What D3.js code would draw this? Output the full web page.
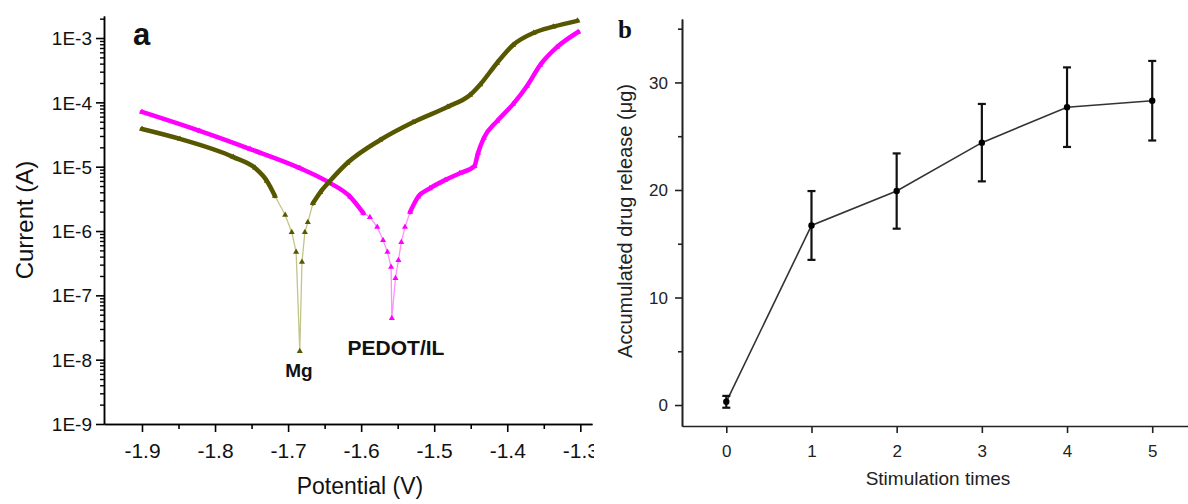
<!DOCTYPE html>
<html>
<head>
<meta charset="utf-8">
<script src="https://cdn.jsdelivr.net/npm/d3@7"></script>
<style>
body { margin: 0; background: #fff; }
svg { display: block; font-family: "Liberation Sans", Arial, sans-serif; }
</style>
</head>
<body>
<div id="chart"></div>
<script>
var width = 1188, height = 504;

// ---- panel a : polarization curves ----
var mgPotential = [-1.900, -1.848, -1.775, -1.745, -1.729, -1.718, -1.704, -1.695, -1.689, -1.684,
  -1.681, -1.677, -1.673, -1.666, -1.656, -1.645, -1.619, -1.574, -1.529, -1.482,
  -1.451, -1.437, -1.414, -1.392, -1.364, -1.337, -1.304];
var mgCurrent = [3.85e-5, 2.7e-5, 1.41e-5, 9.5e-6, 6.0e-6, 3.5e-6, 1.77e-6, 9.6e-7, 4.7e-7, 1.35e-8,
  3.3e-7, 9.6e-7, 1.37e-6, 2.7e-6, 4.0e-6, 5.6e-6, 1.14e-5, 2.6e-5, 4.9e-5, 8.5e-5,
  1.3e-4, 1.9e-4, 4.1e-4, 7.8e-4, 1.2e-3, 1.5e-3, 1.85e-3];

var pedotPotential = [-1.900, -1.821, -1.752, -1.684, -1.643, -1.615, -1.597, -1.588, -1.578, -1.570,
  -1.564, -1.559, -1.558, -1.553, -1.549, -1.545, -1.540, -1.533, -1.522, -1.506,
  -1.485, -1.465, -1.445, -1.440, -1.432, -1.414, -1.392, -1.373, -1.355, -1.332, -1.303];
var pedotCurrent = [7.1e-5, 3.6e-5, 1.88e-5, 9.5e-6, 5.6e-6, 3.4e-6, 1.9e-6, 1.64e-6, 1.15e-6, 7.2e-7,
  4.7e-7, 2.75e-7, 4.4e-8, 1.85e-7, 3.5e-7, 6.7e-7, 1.15e-6, 1.97e-6, 3.4e-6, 4.6e-6,
  6.2e-6, 7.9e-6, 1.02e-5, 1.63e-5, 2.8e-5, 5.1e-5, 9.4e-5, 1.8e-4, 3.8e-4, 7.2e-4, 1.24e-3];

var potTicks = [-1.9, -1.8, -1.7, -1.6, -1.5, -1.4, -1.3];
var potMinorTicks = [-1.85, -1.75, -1.65, -1.55, -1.45, -1.35];
var currentTicks = [1e-9, 1e-8, 1e-7, 1e-6, 1e-5, 1e-4, 1e-3];
var currentLabels = ["1E-9", "1E-8", "1E-7", "1E-6", "1E-5", "1E-4", "1E-3"];

// ---- panel b : drug release ----
var stimTimes = [0, 1, 2, 3, 4, 5];
var drugRelease = [0.3, 16.7, 19.9, 24.4, 27.7, 28.3];
var releaseErr = [0.55, 3.2, 3.5, 3.6, 3.7, 3.7];
var releaseTicks = [0, 10, 20, 30];
var releaseMinorTicks = [5, 15, 25, 35];

var svg = d3.select("#chart").append("svg")
  .attr("width", width)
  .attr("height", height);

svg.append("defs").append("clipPath").attr("id", "clipA")
  .append("rect").attr("x", 0).attr("y", 0).attr("width", 594).attr("height", height);

// ================= panel a =================
var ga = svg.append("g").attr("clip-path", "url(#clipA)");

var xA = d3.scaleLinear().domain([-1.952, -1.284]).range([104, 592]);
var yA = d3.scaleLog().domain([1e-9, 2.2e-3]).range([424, 16]);

var currentMinor = [];
currentTicks.forEach(function(t) {
  for (var m = 2; m <= 9; m++) {
    if (t * m <= 2.2e-3) currentMinor.push(t * m);
  }
});

function styleAxis(g, sw) {
  g.select(".domain").attr("stroke", "#000").attr("stroke-width", sw);
  g.selectAll(".tick line").attr("stroke", "#000").attr("stroke-width", sw);
}

// minor ticks first
ga.append("g").attr("transform", "translate(104,0)")
  .call(d3.axisLeft(yA).tickValues(currentMinor).tickSize(4).tickSizeOuter(0).tickFormat(""))
  .call(styleAxis, 1.4);
ga.append("g").attr("transform", "translate(0,424)")
  .call(d3.axisBottom(xA).tickValues(potMinorTicks).tickSize(5).tickSizeOuter(0).tickFormat(""))
  .call(styleAxis, 1.6);

var yAxisA = ga.append("g").attr("transform", "translate(104,0)")
  .call(d3.axisLeft(yA).tickValues(currentTicks).tickSize(8).tickSizeOuter(0)
    .tickFormat(function(d, i) { return currentLabels[i]; }))
  .call(styleAxis, 1.6);
yAxisA.selectAll(".tick text")
  .attr("x", -12).attr("dy", "0.35em")
  .attr("font-size", 19).attr("fill", "#111")
  .attr("font-family", "Liberation Sans, Arial, sans-serif");

var xAxisA = ga.append("g").attr("transform", "translate(0,424)")
  .call(d3.axisBottom(xA).tickValues(potTicks).tickSize(8).tickSizeOuter(0)
    .tickFormat(function(d) { return d.toFixed(1); }))
  .call(styleAxis, 1.6);
xAxisA.selectAll(".tick text")
  .attr("y", 34).attr("dy", 0)
  .attr("font-size", 21).attr("fill", "#111")
  .attr("font-family", "Liberation Sans, Arial, sans-serif");

var denseLimit = 1.8e-6;

function drawCurve(pots, curs, dark, light) {
  var pts = pots.map(function(p, i) { return [p, curs[i]]; });

  var thin = d3.line()
    .x(function(d) { return xA(d[0]); })
    .y(function(d) { return yA(d[1]); });
  ga.append("path").datum(pts)
    .attr("d", thin)
    .attr("fill", "none")
    .attr("stroke", light)
    .attr("stroke-width", 1.3);

  var thick = d3.line()
    .defined(function(d) { return d[1] >= denseLimit; })
    .curve(d3.curveMonotoneX)
    .x(function(d) { return xA(d[0]); })
    .y(function(d) { return yA(d[1]); });
  ga.append("path").datum(pts)
    .attr("d", thick)
    .attr("fill", "none")
    .attr("stroke", dark)
    .attr("stroke-width", 4.5)
    .attr("stroke-linecap", "round")
    .attr("stroke-linejoin", "round");

  ga.append("g").selectAll("path")
    .data(pts)
    .enter()
    .append("path")
    .attr("d", d3.symbol().type(d3.symbolTriangle).size(16))
    .attr("transform", function(d) { return "translate(" + xA(d[0]) + "," + yA(d[1]) + ")"; })
    .attr("fill", dark);
}

drawCurve(pedotPotential, pedotCurrent, "#ff00ff", "#ff90ff");
drawCurve(mgPotential, mgCurrent, "#575700", "#c4c48a");

ga.append("text")
  .attr("transform", "translate(33,220) rotate(-90)")
  .attr("text-anchor", "middle")
  .attr("font-size", 24)
  .attr("fill", "#111")
  .text("Current (A)");

ga.append("text")
  .attr("x", 360).attr("y", 494)
  .attr("text-anchor", "middle")
  .attr("font-size", 23)
  .attr("fill", "#111")
  .text("Potential (V)");

ga.append("text")
  .attr("x", 133).attr("y", 45)
  .attr("font-size", 31).attr("font-weight", "bold")
  .attr("fill", "#111")
  .text("a");

ga.append("text")
  .attr("x", 299).attr("y", 377)
  .attr("text-anchor", "middle")
  .attr("font-size", 19).attr("font-weight", "bold")
  .attr("fill", "#111")
  .text("Mg");

ga.append("text")
  .attr("x", 396).attr("y", 355)
  .attr("text-anchor", "middle")
  .attr("font-size", 21).attr("font-weight", "bold")
  .attr("fill", "#111")
  .text("PEDOT/IL");

// ================= panel b =================
var gb = svg.append("g");

var xB = d3.scaleLinear().domain([-0.52, 5.42]).range([682, 1188]);
var yB = d3.scaleLinear().domain([-1.95, 35.9]).range([426, 19]);

function styleAxisB(g) {
  g.select(".domain").attr("stroke", "#222").attr("stroke-width", 1.6);
  g.selectAll(".tick line").attr("stroke", "#222").attr("stroke-width", 1.6);
}

gb.append("g").attr("transform", "translate(682,0)")
  .call(d3.axisLeft(yB).tickValues(releaseMinorTicks).tickSize(4).tickSizeOuter(0).tickFormat(""))
  .call(styleAxisB);

var yAxisB = gb.append("g").attr("transform", "translate(682,0)")
  .call(d3.axisLeft(yB).tickValues(releaseTicks).tickSize(7).tickSizeOuter(0).tickFormat(d3.format("d")))
  .call(styleAxisB);
yAxisB.selectAll(".tick text")
  .attr("x", -14).attr("dy", "0.35em")
  .attr("font-size", 17).attr("fill", "#222")
  .attr("font-family", "Liberation Sans, Arial, sans-serif");

var xAxisB = gb.append("g").attr("transform", "translate(0,426)")
  .call(d3.axisBottom(xB).tickValues(stimTimes).tickSize(7).tickSizeOuter(0).tickFormat(d3.format("d")))
  .call(styleAxisB);
xAxisB.selectAll(".tick text")
  .attr("y", 31).attr("dy", 0)
  .attr("font-size", 17).attr("fill", "#222")
  .attr("font-family", "Liberation Sans, Arial, sans-serif");

var release = stimTimes.map(function(t, i) {
  return { t: t, v: drugRelease[i], e: releaseErr[i] };
});

gb.append("path").datum(release)
  .attr("d", d3.line()
    .x(function(d) { return xB(d.t); })
    .y(function(d) { return yB(d.v); }))
  .attr("fill", "none")
  .attr("stroke", "#333")
  .attr("stroke-width", 1.6);

var bars = gb.append("g").selectAll("g")
  .data(release)
  .enter()
  .append("g")
  .attr("stroke", "#111")
  .attr("stroke-width", 2.2);

bars.append("line")
  .attr("x1", function(d) { return xB(d.t); })
  .attr("x2", function(d) { return xB(d.t); })
  .attr("y1", function(d) { return yB(d.v - d.e); })
  .attr("y2", function(d) { return yB(d.v + d.e); });
bars.append("line")
  .attr("x1", function(d) { return xB(d.t) - 4; })
  .attr("x2", function(d) { return xB(d.t) + 4; })
  .attr("y1", function(d) { return yB(d.v + d.e); })
  .attr("y2", function(d) { return yB(d.v + d.e); });
bars.append("line")
  .attr("x1", function(d) { return xB(d.t) - 4; })
  .attr("x2", function(d) { return xB(d.t) + 4; })
  .attr("y1", function(d) { return yB(d.v - d.e); })
  .attr("y2", function(d) { return yB(d.v - d.e); });

gb.append("g").selectAll("circle")
  .data(release)
  .enter()
  .append("circle")
  .attr("cx", function(d) { return xB(d.t); })
  .attr("cy", function(d) { return yB(d.v); })
  .attr("r", 3.2)
  .attr("fill", "#000");

gb.append("text")
  .attr("transform", "translate(632,221) rotate(-90)")
  .attr("text-anchor", "middle")
  .attr("font-size", 20)
  .attr("fill", "#222")
  .text("Accumulated drug release (\u03bcg)");

gb.append("text")
  .attr("x", 938).attr("y", 485)
  .attr("text-anchor", "middle")
  .attr("font-size", 19)
  .attr("fill", "#222")
  .text("Stimulation times");

gb.append("text")
  .attr("x", 618).attr("y", 38)
  .attr("font-family", "Liberation Serif, Times New Roman, serif")
  .attr("font-size", 25).attr("font-weight", "bold")
  .attr("fill", "#111")
  .text("b");
</script>
</body>
</html>
